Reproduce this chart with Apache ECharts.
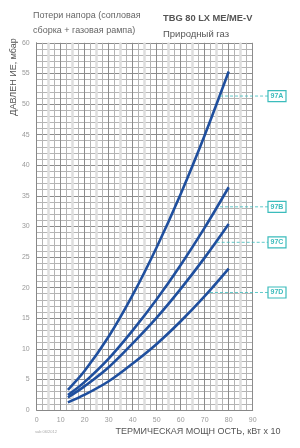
<!DOCTYPE html>
<html>
<head>
<meta charset="utf-8">
<script src="https://cdn.jsdelivr.net/npm/echarts@6/dist/echarts.min.js"></script>
<style>
html,body{margin:0;padding:0;background:#fff;}
#chart{width:300px;height:448px;}
</style>
</head>
<body>
<div id="chart"></div>
<script>
// мощность, кВт x 10
var power = [13, 20, 30, 40, 50, 60, 70, 80];
// давление, мбар
var curve97A = [3.3, 6.4, 12.0, 18.8, 26.6, 35.3, 44.9, 55.3];
var curve97B = [2.45, 4.6, 8.4, 13.0, 18.1, 23.7, 29.8, 36.4];
var curve97C = [2.05, 3.9, 7.0, 10.9, 15.1, 19.8, 24.9, 30.4];
var curve97D = [1.25, 2.5, 4.7, 7.6, 10.8, 14.5, 18.6, 23.1];

var curveNames = ["97A", "97B", "97C", "97D"];
var curveValues = [curve97A, curve97B, curve97C, curve97D];
// точка на кривой, откуда идёт выноска [x, y]
var calloutPoints = [[76.4, 51.3], [76.4, 33.2], [75.0, 27.4], [72.2, 19.2]];
// светлые широкие линии сетки
var lightLinesX = [5, 15, 25, 35, 45, 55, 65, 75, 85];

var font = "'Liberation Sans Narrow', 'Liberation Sans', sans-serif";
var curveColor = "#1f4f9e";
var tealColor = "#3bbcbc";

function toPairs(xs, ys){
	var out = [];
	for(var i = 0; i < xs.length; ++i){
		out.push([xs[i], ys[i]]);
	}
	return out;
}

var series = [];
var lightData = [];
for(var i = 0; i < lightLinesX.length; ++i){
	lightData.push({xAxis : lightLinesX[i]});
}
series.push({
	type : "line",
	data : [],
	silent : true,
	z : 1,
	markLine : {
		silent : true,
		symbol : "none",
		label : {show : false},
		lineStyle : {color : "#dedede", width : 2.5, type : "solid"},
		data : lightData
	}
});
for(var i = 0; i < curveNames.length; ++i){
	series.push({
		name : curveNames[i],
		type : "line",
		data : toPairs(power, curveValues[i]),
		smooth : 0.35,
		showSymbol : false,
		lineStyle : {color : curveColor, width : 2.6},
		z : 5
	});
}

var chart = echarts.init(document.getElementById("chart"), null, {renderer : "canvas"});

var option = {
	animation : false,
	grid : {left : 36.7, right : 47.3, top : 42.8, bottom : 38},
	xAxis : [{
		type : "value",
		min : 0, max : 90, interval : 10,
		axisLine : {show : true, lineStyle : {color : "#888", width : 1}},
		axisTick : {show : false},
		axisLabel : {color : "#999", fontSize : 7, fontFamily : font, margin : 7},
		splitLine : {show : true, lineStyle : {color : "#8c8c8c", width : 1}},
		minorTick : {show : false, splitNumber : 4},
		minorSplitLine : {show : true, lineStyle : {color : "#b4b4b4", width : 1}}
	}],
	yAxis : [{
		type : "value",
		min : 0, max : 60, interval : 5,
		axisLine : {show : true, lineStyle : {color : "#888", width : 1}},
		axisTick : {show : false},
		axisLabel : {color : "#999", fontSize : 7, fontFamily : font, margin : 7},
		splitLine : {show : true, lineStyle : {color : "#8c8c8c", width : 1}},
		minorTick : {show : false, splitNumber : 5},
		minorSplitLine : {show : true, lineStyle : {color : "#b4b4b4", width : 1}}
	}],
	series : series
};
chart.setOption(option);

// подписи и выноски
var graphics = [
	{type : "text", left : 33, top : 11, style : {text : "Потери напора (сопловая", fill : "#666", font : "9px " + font}},
	{type : "text", left : 33, top : 26, style : {text : "сборка + газовая рампа)", fill : "#666", font : "9px " + font}},
	{type : "text", left : 163, top : 14, style : {text : "TBG 80 LX ME/ME-V", fill : "#555", font : "bold 9.3px " + font}},
	{type : "text", left : 163, top : 29, style : {text : "Природный газ", fill : "#555", font : "9.5px " + font}},
	{type : "text", x : 14, y : 77, rotation : Math.PI / 2,
		style : {text : "ДАВЛЕН ИЕ, мбар", fill : "#555", font : "9px " + font, align : "center", verticalAlign : "middle"}},
	{type : "text", x : 198, y : 432,
		style : {text : "ТЕРМИЧЕСКАЯ МОЩН ОСТЬ, кВт x 10", fill : "#555", font : "9px " + font, align : "center", verticalAlign : "middle"}},
	{type : "text", x : 35, y : 432,
		style : {text : "sab 06/2012", fill : "#aaa", font : "4px " + font, verticalAlign : "middle"}}
];

var boxLeft = 268, boxW = 18, boxH = 11;
for(var i = 0; i < calloutPoints.length; ++i){
	var p = chart.convertToPixel({gridIndex : 0}, calloutPoints[i]);
	graphics.push({
		type : "line", z : 6,
		shape : {x1 : p[0], y1 : p[1], x2 : boxLeft, y2 : p[1]},
		style : {stroke : tealColor, lineWidth : 1, lineDash : [3, 2], opacity : 0.8}
	});
	graphics.push({
		type : "rect", z : 6,
		shape : {x : boxLeft, y : p[1] - boxH / 2, width : boxW, height : boxH},
		style : {fill : "#fff", stroke : tealColor, lineWidth : 1.2}
	});
	graphics.push({
		type : "text", z : 7,
		x : boxLeft + boxW / 2, y : p[1],
		style : {text : curveNames[i], fill : tealColor, font : "bold 7px " + font, align : "center", verticalAlign : "middle"}
	});
}
chart.setOption({graphic : graphics});
</script>
</body>
</html>
